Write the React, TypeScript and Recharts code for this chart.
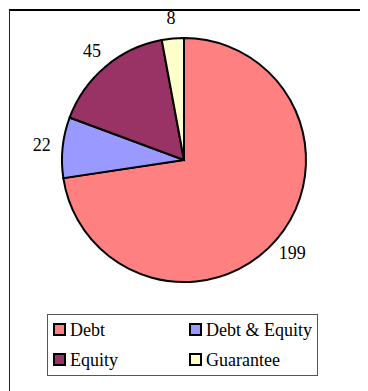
import React from "react";
import { PieChart, Pie, Cell } from "recharts";

const categories = ["Debt", "Debt & Equity", "Equity", "Guarantee"];
const values = [199, 22, 45, 8];
const colors = ["#FF8080", "#9999FF", "#993366", "#FFFFCC"];

const data = categories.map((name, i) => ({ name, value: values[i] }));

const RADIAN = Math.PI / 180;
const FONT = "Liberation Serif, Times New Roman, serif";

const renderLabel = (props: any) => {
  const { cx, cy, midAngle, outerRadius, value } = props;
  const r = outerRadius + 21;
  const x = cx + r * Math.cos(-midAngle * RADIAN);
  const y = cy + r * Math.sin(-midAngle * RADIAN);
  return (
    <text
      x={x}
      y={y}
      textAnchor="middle"
      dominantBaseline="central"
      fill="#000"
      fontFamily={FONT}
      fontSize={18}
    >
      {value}
    </text>
  );
};

export default function App() {
  return (
    <div style={{ position: "relative", width: 360, height: 383, overflow: "hidden", background: "#fff" }}>
      <div
        style={{
          position: "absolute",
          left: 1,
          top: 1,
          width: 420,
          height: 440,
          borderLeft: "1px solid #222",
          borderTop: "2px solid #000",
          boxSizing: "border-box",
        }}
      />
      <div style={{ position: "absolute", left: 0, top: -20 }}>
        <PieChart width={360} height={403} margin={{ top: 0, right: 0, bottom: 0, left: 0 }}>
          <Pie
            data={data}
            dataKey="value"
            nameKey="name"
            cx={176}
            cy={172}
            outerRadius={122}
            startAngle={90}
            endAngle={-270}
            stroke="#000"
            strokeWidth={2}
            label={renderLabel}
            labelLine={false}
            isAnimationActive={false}
          >
            {data.map((d, i) => (
              <Cell key={d.name} fill={colors[i]} />
            ))}
          </Pie>
        </PieChart>
      </div>
      <svg
        width={274}
        height={64}
        style={{ position: "absolute", left: 38, top: 305, overflow: "visible" }}
      >
        <rect x={1.5} y={1.5} width={270} height={61} fill="#fff" stroke="#555" strokeWidth={1} />
        {data.map((d, i) => {
          const col = i % 2;
          const row = Math.floor(i / 2);
          const x0 = 8 + col * 136;
          const y0 = 11 + row * 30;
          return (
            <g key={d.name}>
              <rect x={x0} y={y0} width={11} height={11} fill={colors[i]} stroke="#000" strokeWidth={2} />
              <text
                x={x0 + 16}
                y={y0 + 12}
                fontFamily={FONT}
                fontSize={18}
                fill="#000"
              >
                {d.name}
              </text>
            </g>
          );
        })}
      </svg>
    </div>
  );
}
